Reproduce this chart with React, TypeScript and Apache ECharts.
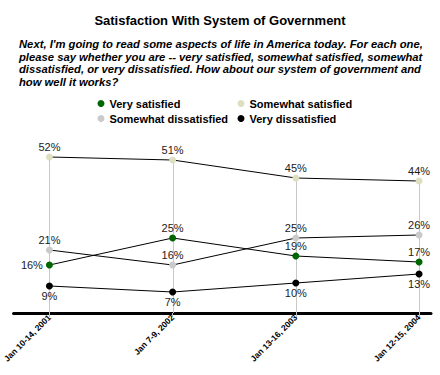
import React, { useEffect, useRef } from "react";
import * as echarts from "echarts";

const categories = ["Jan 10-14, 2001", "Jan 7-9, 2002", "Jan 13-16, 2003", "Jan 12-15, 2004"];
const verySatisfied = [16, 25, 19, 17];
const somewhatSatisfied = [52, 51, 45, 44];
const somewhatDissatisfied = [21, 16, 25, 26];
const veryDissatisfied = [9, 7, 10, 13];

const seriesNames = ["Very satisfied", "Somewhat satisfied", "Somewhat dissatisfied", "Very dissatisfied"];
const seriesColors = ["#006600", "#dedec0", "#cacaca", "#000000"];
const seriesValues = [verySatisfied, somewhatSatisfied, somewhatDissatisfied, veryDissatisfied];
const labelPositions = [
  ["left", "top", "top", "top"],
  ["top", "top", "top", "top"],
  ["top", "top", "top", "top"],
  ["bottom", "bottom", "bottom", "bottom"],
];

const FONT = "'Liberation Sans', Arial, sans-serif";

export default function App() {
  const ref = useRef<HTMLDivElement>(null);
  useEffect(() => {
    document.body.style.margin = "0";
    const chart = echarts.init(ref.current!, null, { renderer: "svg" });
    const idx = categories.map((_, i) => i);
    const maxVals = idx.map((i) => Math.max(...seriesValues.map((s) => s[i])));

    const lineSeries = seriesNames.map((name, k) => ({
      name,
      type: "line",
      z: 3,
      symbol: "circle",
      symbolSize: 7,
      itemStyle: { color: seriesColors[k] },
      lineStyle: { color: "#000", width: 1 },
      emphasis: { disabled: true },
      label: { show: true, color: "#1a1a1a", fontSize: 11, fontFamily: FONT },
      data: seriesValues[k].map((v, i) => ({
        value: [i, v],
        label: {
          show: true,
          position: labelPositions[k][i],
          distance: labelPositions[k][i] === "left" ? 3 : 1,
          formatter: v + "%",
          fontSize: 11,
          fontFamily: FONT,
          color: "#1a1a1a",
        },
      })),
    }));

    const legendPos = [
      { left: 97.5, top: 98 },
      { left: 237.5, top: 98 },
      { left: 97.5, top: 113 },
      { left: 237.5, top: 113 },
    ];

    chart.setOption({
      animation: false,
      title: [
        {
          text: "Satisfaction With System of Government",
          left: "center",
          top: 8,
          textStyle: { fontSize: 13, fontWeight: "bold", fontFamily: FONT, color: "#000", lineHeight: 14 },
        },
        {
          text:
            "Next, I'm going to read some aspects of life in America today. For each one,\nplease say whether you are -- very satisfied, somewhat satisfied, somewhat\ndissatisfied, or very dissatisfied. How about our system of government and\nhow well it works?",
          left: 14,
          top: 33,
          textStyle: {
            fontSize: 11.25,
            fontWeight: "bold",
            fontStyle: "italic",
            fontFamily: FONT,
            color: "#000",
            lineHeight: 12.5,
          },
        },
      ],
      legend: seriesNames.map((name, k) => ({
        data: [name],
        left: legendPos[k].left,
        top: legendPos[k].top,
        padding: 0,
        icon: "circle",
        itemWidth: 7,
        itemHeight: 7,
        itemGap: 0,
        selectedMode: false,
        textStyle: { fontSize: 11, fontWeight: "bold", fontFamily: FONT, color: "#000", padding: [0, 0, 0, 0] },
      })),
      grid: { left: 12, right: 9, top: 133, bottom: 62 },
      xAxis: {
        type: "value",
        min: -0.291,
        max: 3.097,
        splitLine: { show: false },
        axisLine: { show: true, lineStyle: { color: "#000", width: 3 } },
        axisTick: { show: true, customValues: idx, length: 4, lineStyle: { color: "#bbb", width: 1 } },
        axisLabel: {
          customValues: idx,
          rotate: 45,
          margin: 3,
          fontSize: 8.5,
          fontWeight: "bold",
          fontFamily: FONT,
          color: "#000",
          formatter: (v: number) => categories[Math.round(v)] ?? "",
        },
      },
      yAxis: { type: "value", min: 0, max: 60, show: false },
      series: [
        {
          type: "custom",
          z: 1,
          silent: true,
          data: idx.map((i) => [i, maxVals[i]]),
          renderItem: (params: any, api: any) => {
            const p0 = api.coord([api.value(0), 0]);
            const p1 = api.coord([api.value(0), api.value(1)]);
            const x = Math.round(p0[0]) + 0.5;
            return {
              type: "line",
              shape: { x1: x, y1: p0[1], x2: x, y2: p1[1] },
              style: { stroke: "#c8c8c8", lineWidth: 1 },
            };
          },
        },
        ...lineSeries,
      ],
    });
    return () => chart.dispose();
  }, []);
  return <div ref={ref} style={{ width: 440, height: 375 }} />;
}
